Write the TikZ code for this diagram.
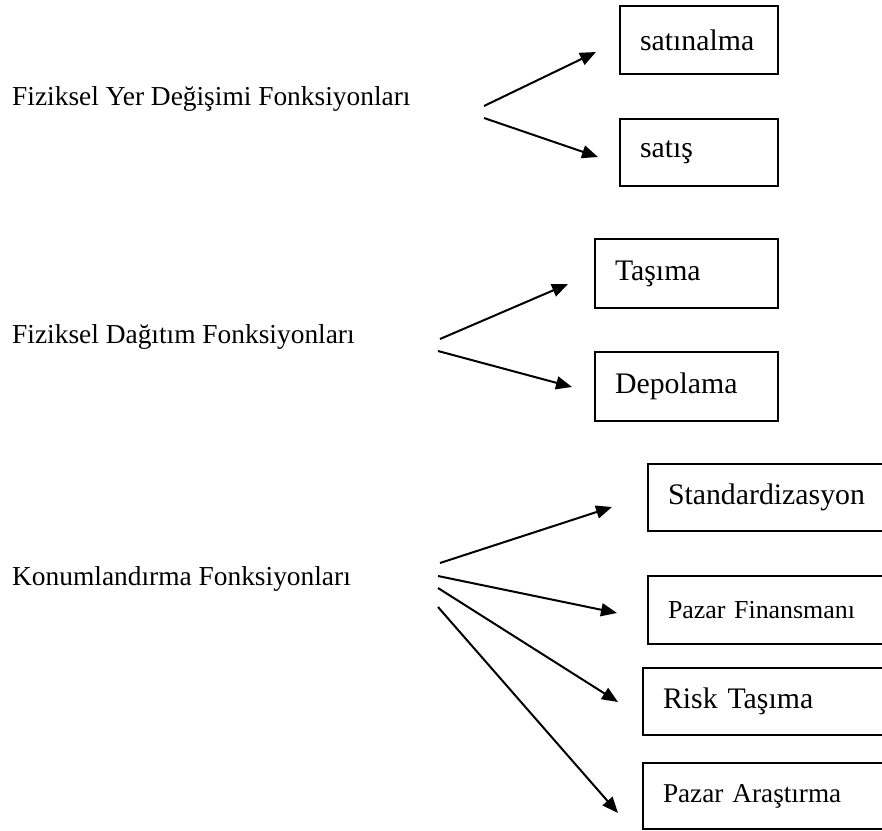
\documentclass[tikz,border=0pt]{standalone}
\usepackage{fontspec}
\setmainfont{Liberation Serif}
\usetikzlibrary{arrows.meta}

\tikzset{
  baslik/.style={anchor=base west, inner sep=0pt, font=\fontsize{27.4}{32}\selectfont},
  kutu/.style={draw, line width=2pt, anchor=north west, align=left, inner xsep=20pt,
    inner ysep=0pt, font=\fontsize{29.8}{34}\selectfont},
  ok/.style={line width=2pt, -{Triangle[length=16pt,width=13pt]}}
}

\begin{document}
\begin{tikzpicture}[x=1pt, y=-1pt]
    \useasboundingbox (0,0) rectangle (882,830);

    % Left-hand headings
    \node[baslik] (yer) at (12,105) {Fiziksel Yer Değişimi Fonksiyonları};
    \node[baslik] (dagitim) at (12,343) {Fiziksel Dağıtım Fonksiyonları};
    \node[baslik] (konum) at (12,585) {Konumlandırma Fonksiyonları};

    % Boxes of the first group
    \node[kutu, text width=118pt, minimum height=68pt] (satinalma) at (619,5) {satınalma};
    \node[kutu, text width=118pt, minimum height=67pt] (satis) at (619,118) {satış};

    % Boxes of the second group
    \node[kutu, text width=143pt, minimum height=69pt] (tasima) at (594,238) {Taşıma};
    \node[kutu, text width=143pt, minimum height=69pt] (depolama) at (594,351) {Depolama};

    % Boxes of the third group (run past the right edge)
    \node[kutu, text width=203pt, minimum height=67pt] (standart) at (647,463) {Standardizasyon};
    \node[kutu, text width=203pt, minimum height=68pt,
      font=\fontsize{25.9}{30}\selectfont] (finans) at (647,575) {Pazar Finansmanı};
    \node[kutu, text width=208pt, minimum height=67pt] (risk) at (642,667) {Risk Taşıma};
    \node[kutu, text width=208pt, minimum height=66pt,
      font=\fontsize{27.2}{31}\selectfont] (arastirma) at (642,762) {Pazar Araştırma};

    % Start and end points of the arrows
    \coordinate (y1) at (484,106);  \coordinate (y1u) at (596,52);
    \coordinate (y2) at (484,118);  \coordinate (y2u) at (598,157);
    \coordinate (d1) at (440,339);  \coordinate (d1u) at (568,284);
    \coordinate (d2) at (438,351);  \coordinate (d2u) at (572,387);
    \coordinate (k1) at (440,563);  \coordinate (k1u) at (612,507);
    \coordinate (k2) at (438,576);  \coordinate (k2u) at (617,613);
    \coordinate (k3) at (438,588);  \coordinate (k3u) at (618,702);
    \coordinate (k4) at (438,607);  \coordinate (k4u) at (618,813);

    % Arrows
    \foreach \a in {y1,y2,d1,d2,k1,k2,k3,k4}
        \draw[ok] (\a) -- (\a u);
\end{tikzpicture}
\end{document}
